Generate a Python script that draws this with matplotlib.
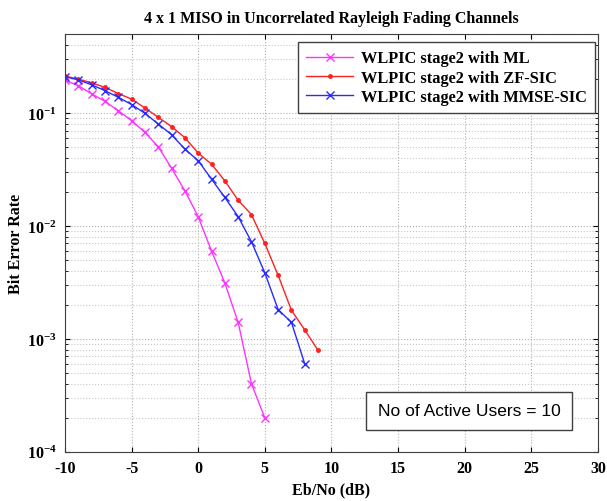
import matplotlib
matplotlib.use("Agg")
import matplotlib.pyplot as plt

plt.rcParams['font.family'] = ['Liberation Serif', 'DejaVu Serif']
plt.rcParams['mathtext.fontset'] = 'custom'
plt.rcParams['mathtext.rm'] = 'Liberation Serif:bold'
plt.rcParams['mathtext.it'] = 'Liberation Serif:bold'
plt.rcParams['mathtext.bf'] = 'Liberation Serif:bold'
plt.rcParams['axes.unicode_minus'] = False

# Eb/No (dB) and BER
snr_ml = [-10, -9, -8, -7, -6, -5, -4, -3, -2, -1, 0, 1, 2, 3, 4, 5]
ber_ml = [0.195, 0.175, 0.148, 0.127, 0.105, 0.0858, 0.0675, 0.0504, 0.0325,
          0.0205, 0.0121, 0.0060, 0.00313, 0.0014, 0.0004, 0.0002]

snr_zf = [-10, -9, -8, -7, -6, -5, -4, -3, -2, -1, 0, 1, 2, 3, 4, 5, 6, 7, 8, 9]
ber_zf = [0.212, 0.200, 0.185, 0.169, 0.149, 0.133, 0.111, 0.0918, 0.0759,
          0.0606, 0.0442, 0.0353, 0.0251, 0.0169, 0.0126, 0.0070, 0.00366,
          0.00179, 0.00120, 0.00079]

snr_mmse = [-10, -9, -8, -7, -6, -5, -4, -3, -2, -1, 0, 1, 2, 3, 4, 5, 6, 7, 8]
ber_mmse = [0.210, 0.197, 0.178, 0.158, 0.138, 0.119, 0.0996, 0.080, 0.0644,
            0.048, 0.0379, 0.026, 0.0179, 0.0121, 0.00724, 0.00385, 0.00182,
            0.0014, 0.0006]

fig = plt.figure(figsize=(6.07, 5.02), dpi=100)
ax = fig.add_axes([0.107, 0.098, 0.878, 0.832])

ax.semilogy(snr_ml, ber_ml, color='#ff33ff', marker='x', markersize=6,
            linewidth=1, label='WLPIC stage2 with ML')
ax.semilogy(snr_zf, ber_zf, color='#ff2020', marker='.', markersize=5,
            linewidth=1, label='WLPIC stage2 with ZF-SIC')
ax.semilogy(snr_mmse, ber_mmse, color='#2a2aff', marker='x', markersize=6,
            linewidth=1, label='WLPIC stage2 with MMSE-SIC')

ax.set_xlim(-10, 30)
ax.set_ylim(1e-4, 0.5)
ax.set_xticks(range(-10, 31, 5))

ax.grid(True, which='major', linestyle=':', color='#b0b0b0', linewidth=0.8)
ax.grid(True, which='minor', axis='y', linestyle=':', color='#c8c8c8',
        linewidth=0.8)
ax.tick_params(which='both', direction='in', top=True, right=True)
ax.tick_params(labelsize=11.5)
ax.tick_params(axis='x', pad=6)
ax.tick_params(axis='y', pad=6)
for lbl in ax.get_xticklabels() + ax.get_yticklabels():
    lbl.set_fontweight('bold')
for s in ax.spines.values():
    s.set_color('#404040')

ax.set_title('4 x 1 MISO in Uncorrelated Rayleigh Fading Channels',
             fontsize=11.5, fontweight='bold', pad=9)
ax.set_xlabel('Eb/No (dB)', fontsize=11.5, fontweight='bold', labelpad=4)
ax.set_ylabel('Bit Error Rate', fontsize=11.5, fontweight='bold', labelpad=2)

leg = ax.legend(loc='upper right', prop={'weight': 'bold', 'size': 11.8},
                fancybox=False, edgecolor='#404040', framealpha=1,
                bbox_to_anchor=(0.9944, 0.981),
                borderaxespad=0.0, handlelength=2.9, labelspacing=0.2,
                borderpad=0.5, handletextpad=0.45)
leg.get_frame().set_linewidth(1)

ax.text(0.758, 0.098, 'No of Active Users = 10', transform=ax.transAxes,
        ha='center', va='center', fontsize=12.5, family='Liberation Sans',
        bbox=dict(boxstyle='square,pad=0.65', facecolor='white',
                  edgecolor='#404040', linewidth=1))

fig.savefig('out.png', dpi=100)
